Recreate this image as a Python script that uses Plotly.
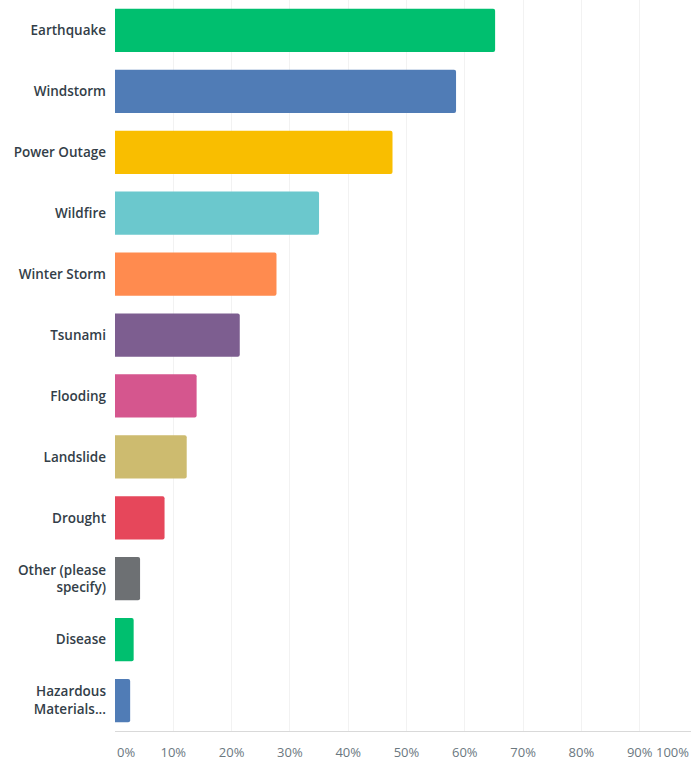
import plotly.graph_objects as go

# Survey responses: share of respondents selecting each hazard (%)
categories = [
    "Earthquake", "Windstorm", "Power Outage", "Wildfire", "Winter Storm",
    "Tsunami", "Flooding", "Landslide", "Drought",
    "Other (please<br>specify)", "Disease", "Hazardous<br>Materials...",
]
percentages = [65.2, 58.5, 47.6, 35.0, 27.7, 21.4, 14.0, 12.3, 8.5, 4.3, 3.2, 2.6]
bar_colors = [
    "#00BF6F", "#507CB6", "#F9BE00", "#6BC8CD", "#FF8B4F", "#7D5E90",
    "#D5568E", "#CDBB6F", "#E6475B", "#6D7073", "#00BF6F", "#507CB6",
]
tick_values = [10, 20, 30, 40, 50, 60, 70, 80, 90]
tick_labels = [f"{v}%" for v in tick_values]

tick_font = dict(family="Open Sans, Arial, sans-serif", size=13, color="#6B787F")

fig = go.Figure(
    go.Bar(
        x=percentages,
        y=categories,
        orientation="h",
        marker=dict(color=bar_colors, line=dict(width=0)),
        hoverinfo="skip",
    )
)

fig.update_layout(
    width=691,
    height=761,
    margin=dict(l=115, r=0, t=0, b=30),
    paper_bgcolor="white",
    plot_bgcolor="white",
    bargap=0.29,
    barcornerradius=2,
    showlegend=False,
    font=dict(family="Open Sans, Arial, sans-serif", size=12, color="#333E48"),
)

fig.update_yaxes(
    categoryorder="array",
    categoryarray=categories,
    autorange="reversed",
    automargin=False,
    showgrid=False,
    showline=False,
    ticks="",
    ticklabelstandoff=8,
    tickfont=dict(size=13.5, color="#333E48", weight=600),
)

fig.update_xaxes(
    range=[0, 98.8],
    tickvals=tick_values,
    ticktext=tick_labels,
    automargin=False,
    showgrid=True,
    gridcolor="#F2F2F2",
    gridwidth=1,
    zeroline=False,
    showline=True,
    linecolor="#D9D9D9",
    linewidth=1,
    ticks="",
    ticklabelstandoff=9,
    tickfont=tick_font,
)

# End labels of the percentage axis, kept inside the page edges
fig.add_annotation(
    x=0, y=0, xref="paper", yref="paper", text="0%",
    xanchor="left", yanchor="top", yshift=-10, showarrow=False,
    font=tick_font,
)
fig.add_annotation(
    x=1, y=0, xref="paper", yref="paper", text="100%",
    xanchor="right", yanchor="top", yshift=-10, showarrow=False,
    font=tick_font,
)

fig.write_html("out.html")
